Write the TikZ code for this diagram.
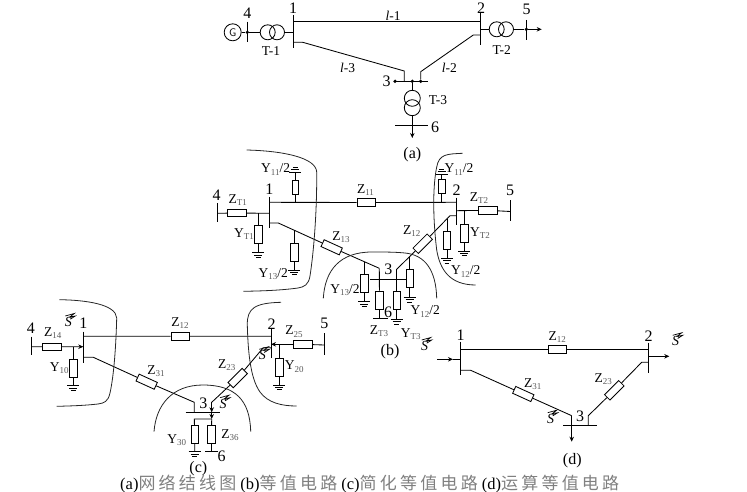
\documentclass[tikz,border=0pt]{standalone}
\usepackage{fontspec}
\setmainfont{Liberation Serif}
\newfontfamily\cjk[LetterSpace=19]{Noto Sans CJK SC}[]
\usetikzlibrary{arrows.meta}
\definecolor{subgray}{gray}{0.35}
\newcommand\low[1]{\raisebox{-2.5pt}{\fontsize{9}{9}\selectfont\color{subgray}#1}}
\tikzset{
  x=1pt,y=-1pt,
  wire/.style={line width=0.85pt,line cap=butt,black},
  cut/.style={line width=0.8pt,black!85},
  bus/.style={line width=1pt,black},
  arrowwire/.style={wire,-{Stealth[length=5pt,width=4.5pt]}},
  txt/.style={inner sep=0pt,font=\fontsize{16}{16}\selectfont},
  small/.style={inner sep=0pt,font=\fontsize{13.5}{13.5}\selectfont},
  dotn/.style={circle,fill=black,inner sep=0pt,minimum size=3.6pt},
  trafo/.style={circle,draw,line width=0.85pt,inner sep=0pt,minimum size=15pt},
  hbox/.style={rectangle,draw,line width=0.85pt,inner sep=0pt,minimum width=18.5pt,minimum height=7.5pt},
  vbox/.style={rectangle,draw,line width=0.85pt,inner sep=0pt,minimum width=7.5pt,minimum height=18pt},
  gnd/.pic={\draw[wire] (-6,0)--(6,0) (-4,2.4)--(4,2.4) (-2.4,4.8)--(2.4,4.8);},
  gndup/.pic={\draw[wire] (-6,0)--(6,0) (-4,-2.4)--(4,-2.4) (-2.4,-4.8)--(2.4,-4.8);},
  flowmark/.pic={
    \node[inner sep=0pt,font=\fontsize{14}{14}\selectfont\itshape] at (-1,2) {S};
    \draw[line width=0.7pt] (-4,-4)--(5,-6.5)--(0.5,-3)--(6,-4)--(1,-0.8);
  }
}
% name, x, y of connection, y of box centre, y of ground
\newcommand\shunt[5]{%
  \node[vbox] (#1) at (#2,#4) {};
  \coordinate (#1t) at (#2,#3);
  \coordinate (#1g) at (#2,#5);
  \draw[wire] (#1t)--(#1)--(#1g);
  \pic at (#1g) {gnd};
}
\begin{document}
\begin{tikzpicture}
\useasboundingbox (0,0) rectangle (747,492);
% ===================== (a)
\node[circle,draw,line width=0.85pt,inner sep=0pt,minimum size=17pt,font=\fontsize{11}{11}\selectfont\sffamily] (G) at (232.7,32.3) {G};
\node[dotn] (a4d) at (247.3,32.3) {};
\node[trafo] (t1a) at (267.7,32.3) {};
\node[trafo] (t1b) at (277,32.3) {};
\coordinate (a1m) at (293.3,32.3);
\coordinate (a4t) at (247.3,21.7); \coordinate (a4b) at (247.3,41.7);
\coordinate (a1t) at (293.3,15); \coordinate (a1b) at (293.3,48.3);
\coordinate (a2t) at (480,12); \coordinate (a2b) at (480,45);
\draw[bus] (a4t)--(a4b) (a1t)--(a1b) (a2t)--(a2b);
\draw[wire] (G)--(a4d)--(t1a) (t1b)--(a1m);
\coordinate (a1l) at (293.3,21.3); \coordinate (a2l) at (480,21.3);
\draw[wire] (a1l)--(a2l);
\node[trafo] (t2a) at (496.7,29.3) {};
\node[trafo] (t2b) at (506,29.3) {};
\coordinate (a2m) at (480,29.3);
\node[dotn] (a5d) at (526.3,29.3) {};
\coordinate (a5e) at (541.7,29.3);
\coordinate (a5t) at (526.3,20); \coordinate (a5b) at (526.3,40);
\draw[bus] (a5t)--(a5b);
\draw[wire] (a2m)--(t2a) (t2b)--(a5d);
\draw[arrowwire] (a5d)--(a5e);
% bus 3
\coordinate (a3l) at (395,81.3); \coordinate (a3r) at (428.3,81.3);
\draw[bus] (a3l)--(a3r);
\node[dotn] (a3d1) at (395,81.3) {};
\node[dotn] (a3d2) at (412.3,81.3) {};
\node[dotn] (a3d3) at (420.7,81.3) {};
\coordinate (a13s) at (293.3,42.3); \coordinate (a13k) at (302.7,42.3);
\coordinate (a13e) at (404.3,71); \coordinate (a13f) at (404.3,81.3);
\draw[wire] (a13s)--(a13k)--(a13e)--(a13f);
\coordinate (a23s) at (480,35); \coordinate (a23k) at (473.3,35);
\coordinate (a23e) at (420.7,71.7);
\draw[wire] (a23s)--(a23k)--(a23e)--(a3d3);
\node[trafo,minimum size=16pt] (t3a) at (412.3,98.3) {};
\node[trafo,minimum size=16pt] (t3b) at (412.3,107.7) {};
\coordinate (a6e) at (412.3,138);
\coordinate (a6l) at (395,125.7); \coordinate (a6r) at (428.3,125.7);
\draw[bus] (a6l)--(a6r);
\draw[wire] (a3d2)--(t3a);
\draw[arrowwire] (t3b)--(a6e);
\node[txt] (la4) at (247.3,13) {4};
\node[txt] (la1) at (293,8) {1};
\node[txt] (la2) at (481,8) {2};
\node[txt] (la5) at (526.7,9) {5};
\node[small] (lt1) at (271,51) {T-1};
\node[small] (lt2) at (501.7,50) {T-2};
\node[small] (ll1) at (393,15.5) {\textit{l}-1};
\node[small] (ll3) at (347.7,68) {\textit{l}-3};
\node[small] (ll2) at (449.3,67.7) {\textit{l}-2};
\node[txt] (la3) at (386.7,81) {3};
\node[small] (lt3) at (438,100) {T-3};
\node[txt] (la6) at (435,127) {6};
\node[txt] (lca) at (412.3,154.3) {(a)};
% ===================== (b)
\coordinate (b4t) at (217.7,203); \coordinate (b4b) at (217.7,221.7);
\coordinate (b1t) at (269.3,196.7); \coordinate (b1b) at (269.3,228.3);
\coordinate (b2t) at (456.7,197.7); \coordinate (b2b) at (456.7,225);
\coordinate (b5t) at (510.3,200); \coordinate (b5b) at (510.3,220.7);
\draw[bus] (b4t)--(b4b) (b1t)--(b1b) (b2t)--(b2b) (b5t)--(b5b);
\node[hbox] (zt1) at (236.7,213) {};
\coordinate (b4m) at (217.7,213.3); \coordinate (b1m) at (269.3,213.3);
\draw[wire] (b4m)--(zt1)--(b1m);
\node[hbox] (z11) at (366.2,202.5) {};
\coordinate (b1u) at (269.3,202.3); \coordinate (b2u) at (456.7,202.3);
\draw[wire] (b1u)--(z11)--(b2u);
% Y11/2 left, up
\node[vbox,minimum width=6.5pt,minimum height=14pt] (y11l) at (295.3,187.5) {};
\coordinate (y11lb) at (295.3,202.3); \coordinate (y11lg) at (295.3,172);
\draw[wire] (y11lb)--(y11l)--(y11lg);
\pic at (y11lg) {gndup};
% Y11/2 right, up
\node[vbox,minimum width=6.5pt,minimum height=14pt] (y11r) at (441.7,186.7) {};
\coordinate (y11rb) at (441.7,202.3); \coordinate (y11rg) at (441.7,174);
\draw[wire] (y11rb)--(y11r)--(y11rg);
\pic at (y11rg) {gndup};
\shunt{yt1}{258.3}{213.3}{234.3}{252.7}
% line 1-3
\node[hbox,rotate=-24.5,minimum width=20pt] (z13) at (331.7,247.3) {};
\coordinate (b13s) at (269.3,223); \coordinate (b13k) at (278.3,223);
\coordinate (b13e) at (379.3,268.3);
\draw[wire] (b13s)--(b13k)--(z13)--(b13e);
\shunt{y13l}{294.3}{229.8}{252.5}{270}
\shunt{y13r}{364.3}{262.3}{283.3}{301.7}
% bus 3
\coordinate (b3l) at (370,279); \coordinate (b3r) at (406.3,279);
\draw[wire] (b3l)--(b3r);
% to T3 branch
\node[vbox] (zt3) at (379.5,300) {};
\coordinate (b6m) at (379.5,318.3);
\draw[wire] (b13e)--(zt3)--(b6m);
\coordinate (b6l) at (373.3,318.3); \coordinate (b6r) at (388.3,318.3);
\draw[bus] (b6l)--(b6r);
\coordinate (b23e) at (396.7,269.3); \coordinate (b23k) at (450,215.7);
\coordinate (b23s) at (456.7,215.7);
\node[hbox,rotate=45,minimum width=20pt] (z12b) at (422.7,243.7) {};
\draw[wire] (b23s)--(b23k)--(z12b)--(b23e);
\shunt{yt3}{396.7}{269.3}{300.5}{319.3}
\shunt{y12l}{409.7}{256.5}{278.8}{297.3}
\shunt{y12r}{447}{218.7}{240.8}{258.3}
\shunt{yt2}{464.3}{210.7}{233.3}{251}
\node[hbox] (zt2) at (488,210.3) {};
\coordinate (b2m) at (456.7,210.7); \coordinate (b5m) at (510.3,211.5);
\draw[wire] (b2m)--(zt2)--(b5m);
% cut curves (b)
\draw[cut] (246.7,150) .. controls (285,151) and (316,158) .. (316.7,172)
  .. controls (317,210) and (314,250) .. (310,276) .. controls (308.5,285) and (304,287) .. (298,288)
  .. controls (280,290.5) and (260,291) .. (243.3,291.3);
\draw[cut] (462.7,153.3) .. controls (447,154) and (439,154) .. (436.7,167)
  .. controls (433,185) and (432.5,215) .. (436.7,250) .. controls (440,270) and (450,285) .. (475.7,285);
\draw[cut] (323.3,298.3) .. controls (325,270) and (340,252) .. (372,252)
  .. controls (385,252) and (395,252) .. (405,253) .. controls (425,255) and (436,270) .. (436.7,298.3);
\node[small] (ly11l) at (275.7,169.3) {Y\low{11}/2};
\node[txt] (lb1) at (269.3,189) {1};
\node[txt] (lb4) at (216.7,195) {4};
\node[small] (lzt1) at (237.7,200) {Z\low{T1}};
\node[small] (lyt1) at (244,234) {Y\low{T1}};
\node[small] (lz11) at (365.5,190) {Z\low{11}};
\node[small] (ly13l) at (273.3,274) {Y\low{13}/2};
\node[small] (lz13) at (341,237.3) {Z\low{13}};
\node[small] (ly11r) at (459,169.3) {Y\low{11}/2};
\node[txt] (lb2) at (456.7,190) {2};
\node[small] (lzt2) at (479,198.3) {Z\low{T2}};
\node[txt] (lb5) at (510,190) {5};
\node[small] (lyt2) at (480,233.3) {Y\low{T2}};
\node[small] (lz12) at (411.7,231) {Z\low{12}};
\node[small] (ly12r) at (465.7,271.7) {Y\low{12}/2};
\node[txt] (lb3) at (388.3,269.3) {3};
\node[small] (ly13r) at (345,290) {Y\low{13}/2};
\node[small] (ly12l) at (425.3,311.7) {Y\low{12}/2};
\node[txt] (lb6) at (388,312.7) {6};
\node[small] (lzt3) at (379,331) {Z\low{T3}};
\node[small] (lyt3) at (410.7,334.3) {Y\low{T3}};
\node[txt] (lcb) at (390,351.7) {(b)};
\pic at (425.7,344) {flowmark};
% ===================== (c)
\coordinate (c4t) at (31.7,336.7); \coordinate (c4b) at (31.7,355);
\coordinate (c1t) at (83.3,331.7); \coordinate (c1b) at (83.3,362.7);
\coordinate (c2t) at (271,328.3); \coordinate (c2b) at (271,358.3);
\coordinate (c5t) at (324.3,333.3); \coordinate (c5b) at (324.3,355);
\draw[bus] (c4t)--(c4b) (c1t)--(c1b) (c2t)--(c2b) (c5t)--(c5b);
\node[hbox] (z14) at (51.7,346.8) {};
\coordinate (c4m) at (31.7,346.7); \coordinate (c1m) at (83.3,346.7);
\draw[wire] (c4m)--(z14);
\draw[arrowwire] (z14)--(c1m);
\node[hbox] (z12c) at (180.3,336.2) {};
\coordinate (c1u) at (83.3,336.3); \coordinate (c2u) at (271,336.3);
\draw[wire] (c1u)--(z12c)--(c2u);
\shunt{y10}{73.3}{346.7}{368.3}{385.7}
\node[hbox,rotate=-24.5,minimum width=20pt] (z31c) at (146.7,381.7) {};
\coordinate (c13s) at (83.3,357.3); \coordinate (c13k) at (93.3,357.3);
\coordinate (c13e) at (194.3,402.3); \coordinate (c3a) at (194.3,412.3);
\draw[wire] (c13s)--(c13k)--(z31c)--(c13e)--(c3a);
\coordinate (c3l) at (185.7,412.3); \coordinate (c3r) at (220,412.3);
\draw[bus] (c3l)--(c3r);
\node[hbox,rotate=45,minimum width=20pt] (z23c) at (237.7,378) {};
\coordinate (c23s) at (271,347.7); \coordinate (c23k) at (263.3,347.7);
\coordinate (c23e) at (211.7,402.3); \coordinate (c3b) at (211.7,412.3);
\draw[wire] (c23s)--(c23k)--(z23c)--(c23e);
\draw[arrowwire] (c23e)--(c3b);
% right of bus 2
\node[hbox] (z25) at (302.7,344.3) {};
\coordinate (c2m) at (271,344.3); \coordinate (c5m) at (324.3,345);
\draw[wire] (z25)--(c5m);
\draw[arrowwire] (z25)--(c2m);
\shunt{y20}{279.3}{344.3}{367.3}{385}
% under bus 3
\coordinate (c3j) at (211.7,419); \coordinate (c3i) at (194.3,419);
\draw[arrowwire] (c3b)--(c3j);
\node[vbox] (y30) at (194.7,434.5) {};
\coordinate (y30g) at (194.7,451.7);
\draw[wire] (c3j)--(c3i)--(y30)--(y30g);
\pic at (y30g) {gnd};
\node[vbox] (z36) at (211.5,434.5) {};
\coordinate (c6m) at (211.5,451.7);
\coordinate (c6l) at (205,451.7); \coordinate (c6r) at (218.3,451.7);
\draw[wire] (c3j)--(z36)--(c6m);
\draw[bus] (c6l)--(c6r);
% cut curves (c)
\draw[cut] (59.3,299.7) .. controls (85,300) and (116,304) .. (116.7,318)
  .. controls (116,345) and (114,375) .. (110,393) .. controls (108,402) and (104,403) .. (98,404)
  .. controls (85,405.5) and (70,406) .. (56.7,406.3);
\draw[cut] (281,302.3) .. controls (255,303) and (247,308) .. (247.3,325)
  .. controls (248,350) and (250,378) .. (260,392) .. controls (268,403) and (282,406) .. (296.7,406);
\draw[cut] (154,431.7) .. controls (156,405) and (172,385) .. (203,385)
  .. controls (235,385) and (250,400) .. (250.7,431.7);
\node[txt] (lc4) at (31,328) {4};
\node[small] (lz14) at (52.7,333) {Z\low{14}};
\node[txt] (lc1) at (83.3,323.3) {1};
\pic at (69.3,320) {flowmark};
\node[small] (ly10) at (59.3,368) {Y\low{10}};
\node[small] (lz12c) at (180,323.3) {Z\low{12}};
\node[small] (lz31c) at (156,371) {Z\low{31}};
\node[txt] (lc2) at (271.7,324.3) {2};
\node[txt] (lc5) at (324.3,323.3) {5};
\node[small] (lz25) at (294,331.7) {Z\low{25}};
\pic at (263.3,353.3) {flowmark};
\node[small] (ly20) at (294.3,366.7) {Y\low{20}};
\node[small] (lz23c) at (226.7,365) {Z\low{23}};
\node[txt] (lc3) at (203.3,403.3) {3};
\pic at (224,401.7) {flowmark};
\node[small] (ly30) at (176.7,440) {Y\low{30}};
\node[small] (lz36) at (230,435) {Z\low{36}};
\node[txt] (lc6) at (221.7,456.7) {6};
\node[txt] (lcc) at (198.3,468.3) {(c)};
% ===================== (d)
\coordinate (d1t) at (460.3,341.7); \coordinate (d1b) at (460.3,375);
\coordinate (d2t) at (648.3,342.7); \coordinate (d2b) at (648.3,372.7);
\coordinate (d3l) at (563.3,425); \coordinate (d3r) at (596.7,425);
\draw[bus] (d1t)--(d1b) (d2t)--(d2b) (d3l)--(d3r);
\node[hbox] (z12d) at (557.5,349.3) {};
\coordinate (d1u) at (460.3,349.3); \coordinate (d2u) at (648.3,349.3);
\draw[wire] (d1u)--(z12d)--(d2u);
\coordinate (din) at (437.3,359.3); \coordinate (dinm) at (453,359.3); \coordinate (d1m) at (460.3,359.3);
\draw[arrowwire] (din)--(dinm);
\draw[wire] (dinm)--(d1m);
\node[hbox,rotate=-24.5,minimum width=20pt] (z31d) at (523.3,394) {};
\coordinate (d13s) at (460.3,370.3); \coordinate (d13k) at (470.7,370.3);
\coordinate (d13e) at (571.7,415.7); \coordinate (d3o) at (571.7,441.7);
\draw[wire] (d13s)--(d13k)--(z31d)--(d13e);
\draw[arrowwire] (d13e)--(d3o);
\node[hbox,rotate=45,minimum width=20pt] (z23d) at (614.3,390.3) {};
\coordinate (d23s) at (648.3,362.3); \coordinate (d23k) at (641.7,362.3);
\coordinate (d23e) at (588.3,415.7); \coordinate (d3b) at (588.3,425);
\draw[wire] (d23s)--(d23k)--(z23d)--(d23e)--(d3b);
\coordinate (d2m) at (648.3,356.3); \coordinate (d2o) at (669.3,356.3);
\draw[arrowwire] (d2m)--(d2o);
\node[txt] (ld1) at (460.7,335.7) {1};
\node[small] (lz12d) at (557.3,337.3) {Z\low{12}};
\node[txt] (ld2) at (648.7,336.7) {2};
\pic at (676.7,339.3) {flowmark};
\node[small] (lz31d) at (532.7,384) {Z\low{31}};
\node[small] (lz23d) at (603.3,379.3) {Z\low{23}};
\pic at (551.7,416.7) {flowmark};
\node[txt] (ld3) at (580,416.7) {3};
\node[txt] (lcd) at (572.3,460.7) {(d)};
% ===================== caption
\node[inner sep=0pt,anchor=base west,font=\fontsize{16.5}{17}\selectfont] (cap) at (120,489)
 {(a){\color{black!50}\fontsize{17}{17}\selectfont\cjk 网络结线图}\hspace{4pt}(b){\color{black!50}\fontsize{17}{17}\selectfont\cjk 等值电路}\hspace{4pt}(c){\color{black!50}\fontsize{17}{17}\selectfont\cjk 简化等值电路}\hspace{4pt}(d){\color{black!50}\fontsize{17}{17}\selectfont\cjk 运算等值电路}};
\end{tikzpicture}
\end{document}
